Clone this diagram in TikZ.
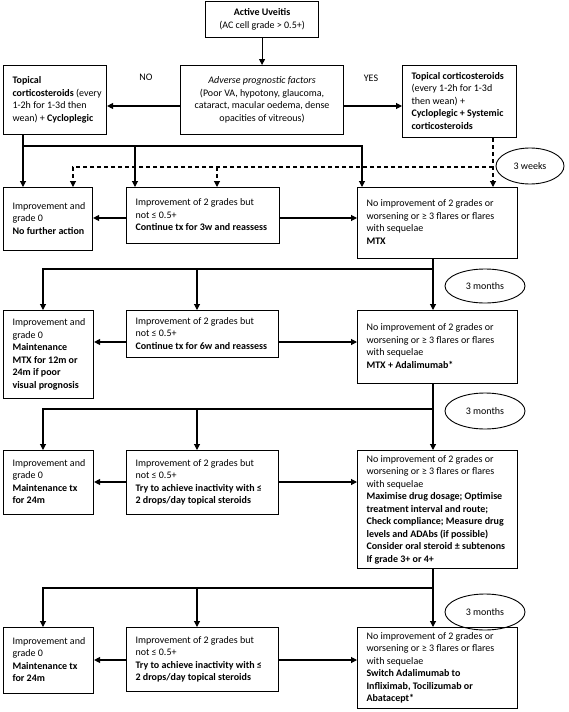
\documentclass[tikz,border=0pt]{standalone}
\usepackage{fontspec}
\setmainfont{Carlito}
\usetikzlibrary{arrows.meta,shapes.geometric}
\newcommand\fs{\fontsize{10}{12.5}\selectfont}
\newcommand\tb[2]{\makebox[#1][l]{\begin{tabular}{@{}l@{}}#2\end{tabular}}}
\newcommand\tcn[1]{\begin{tabular}{@{}c@{}}#1\end{tabular}}
\begin{document}
\begin{tikzpicture}[x=1pt,y=-1pt,
  bx/.style={draw, line width=1.1pt, anchor=north west, inner xsep=9pt, inner ysep=1pt, font=\fs},
  arr/.style={line width=1.1pt, -{Triangle[length=6pt,width=6pt]}},
  ln/.style={line width=1.1pt},
  dsh/.style={line width=1.1pt, dash pattern=on 4pt off 3pt},
  ell/.style={draw, ellipse, line width=0.9pt, inner sep=0pt, font=\fs},
  lbl/.style={font=\fs, inner sep=0pt}]
\useasboundingbox (0,0) rectangle (568,712);
% top
\node[bx, minimum width=113, minimum height=36] (T) at (205,1) {\tcn{\textbf{Active Uveitis}\\(AC cell grade > 0.5+)}};
\node[bx, minimum width=163, minimum height=69] (P) at (180,65) {\tcn{\textit{Adverse prognostic factors}\\(Poor VA, hypotony, glaucoma,\\cataract, macular oedema, dense\\opacities of vitreous)}};
\node[bx, minimum width=103, minimum height=69] (L) at (3,65) {\tb{85pt}{\textbf{Topical}\\\textbf{corticosteroids} (every\\1-2h for 1-3d then\\wean) + \textbf{Cycloplegic}}};
\node[bx, minimum width=114, minimum height=72] (R) at (402,65) {\tb{96pt}{\textbf{Topical corticosteroids}\\(every 1-2h for 1-3d\\then wean) +\\\textbf{Cycloplegic + Systemic}\\\textbf{corticosteroids}}};
\node[lbl] (no) at (146,77) {NO};
\node[lbl] (yes) at (371,78) {YES};
% row 1
\node[bx, minimum width=89, minimum height=63] (A1) at (3,187) {\tb{71pt}{Improvement and\\grade 0\\\textbf{No further action}}};
\node[bx, minimum width=153, minimum height=56] (B1) at (126,187) {\tb{135pt}{Improvement of 2 grades but\\not ≤ 0.5+\\\textbf{Continue tx for 3w and reassess}}};
\node[bx, minimum width=160, minimum height=71] (C1) at (357,187) {\tb{142pt}{No improvement of 2 grades or\\worsening or ≥ 3 flares or flares\\with sequelae\\\textbf{MTX}}};
% row 2
\node[bx, minimum width=90, minimum height=88] (A2) at (3,310) {\tb{72pt}{Improvement and\\grade 0\\\textbf{Maintenance}\\\textbf{MTX for 12m or}\\\textbf{24m if poor}\\\textbf{visual prognosis}}};
\node[bx, minimum width=152, minimum height=47] (B2) at (126,310) {\tb{134pt}{Improvement of 2 grades but\\not ≤ 0.5+\\\textbf{Continue tx for 6w and reassess}}};
\node[bx, minimum width=160, minimum height=73] (C2) at (357,310) {\tb{142pt}{No improvement of 2 grades or\\worsening or ≥ 3 flares or flares\\with sequelae\\\textbf{MTX + Adalimumab*}}};
% row 3
\node[bx, minimum width=90, minimum height=64] (A3) at (3,450) {\tb{72pt}{Improvement and\\grade 0\\\textbf{Maintenance tx}\\\textbf{for 24m}}};
\node[bx, minimum width=152, minimum height=64] (B3) at (126,450) {\tb{134pt}{Improvement of 2 grades but\\not ≤ 0.5+\\\textbf{Try to achieve inactivity with ≤}\\\textbf{2 drops/day topical steroids}}};
\node[bx, minimum width=160, minimum height=118] (C3) at (357,450) {\tb{142pt}{No improvement of 2 grades or\\worsening or ≥ 3 flares or flares\\with sequelae\\\textbf{Maximise drug dosage; Optimise}\\\textbf{treatment interval and route;}\\\textbf{Check compliance; Measure drug}\\\textbf{levels and ADAbs (if possible)}\\\textbf{Consider oral steroid ± subtenons}\\\textbf{If grade 3+ or 4+}}};
% row 4
\node[bx, minimum width=90, minimum height=66] (A4) at (3,627) {\tb{72pt}{Improvement and\\grade 0\\\textbf{Maintenance tx}\\\textbf{for 24m}}};
\node[bx, minimum width=152, minimum height=64] (B4) at (126,627) {\tb{134pt}{Improvement of 2 grades but\\not ≤ 0.5+\\\textbf{Try to achieve inactivity with ≤}\\\textbf{2 drops/day topical steroids}}};
\node[bx, minimum width=160, minimum height=81] (C4) at (357,627) {\tb{142pt}{No improvement of 2 grades or\\worsening or ≥ 3 flares or flares\\with sequelae\\\textbf{Switch Adalimumab to}\\\textbf{Infliximab, Tocilizumab or}\\\textbf{Abatacept*}}};
% ellipses
\node[ell, minimum width=68, minimum height=36] (W) at (530,166) {3 weeks};
\node[ell, minimum width=80, minimum height=34] (M1) at (485,286) {3 months};
\node[ell, minimum width=80, minimum height=36] (M2) at (485,411) {3 months};
\node[ell, minimum width=80, minimum height=36] (M3) at (485,612) {3 months};
% coordinates
\coordinate (ya) at (0,106);
\coordinate (j1) at (23,146);
\coordinate (j2) at (135,146);
\coordinate (j3) at (362,146);
\coordinate (d1) at (493,167);
\coordinate (d2) at (73,167);
\coordinate (d3) at (217,167);
\coordinate (r1) at (0,218);
\coordinate (k1) at (433,269);
\coordinate (k2) at (43,269);
\coordinate (k3) at (197,269);
\coordinate (r2) at (0,342);
\coordinate (m1) at (433,409);
\coordinate (m2) at (43,409);
\coordinate (m3) at (197,409);
\coordinate (r3) at (0,482);
\coordinate (n1) at (433,588);
\coordinate (n2) at (43,588);
\coordinate (n3) at (197,588);
\coordinate (r4) at (0,660);
% top connectors
\draw[arr] (T) -- (P);
\draw[arr] (P.west |- ya) -- (L.east |- ya);
\draw[arr] (P.east |- ya) -- (R.west |- ya);
% row 1 connectors
\draw[arr] (L.south -| j1) -- (A1.north -| j1);
\draw[arr] (j1) -- (j3) -- (C1.north -| j3);
\draw[arr] (j2) -- (B1.north -| j2);
\draw[dsh, arr] (R.south -| d1) -- (C1.north -| d1);
\draw[dsh, arr] (d1) -- (d2) -- (A1.north -| d2);
\draw[dsh, arr] (d3) -- (B1.north -| d3);
\draw[arr] (B1.west |- r1) -- (A1.east |- r1);
\draw[arr] (B1.east |- r1) -- (C1.west |- r1);
% row 2
\draw[arr] (C1.south -| k1) -- (C2.north -| k1);
\draw[arr] (k1) -- (k2) -- (A2.north -| k2);
\draw[arr] (k3) -- (B2.north -| k3);
\draw[arr] (B2.west |- r2) -- (A2.east |- r2);
\draw[arr] (B2.east |- r2) -- (C2.west |- r2);
% row 3
\draw[arr] (C2.south -| m1) -- (C3.north -| m1);
\draw[arr] (m1) -- (m2) -- (A3.north -| m2);
\draw[arr] (m3) -- (B3.north -| m3);
\draw[arr] (B3.west |- r3) -- (A3.east |- r3);
\draw[arr] (B3.east |- r3) -- (C3.west |- r3);
% row 4
\draw[arr] (C3.south -| n1) -- (C4.north -| n1);
\draw[arr] (n1) -- (n2) -- (A4.north -| n2);
\draw[arr] (n3) -- (B4.north -| n3);
\draw[arr] (B4.west |- r4) -- (A4.east |- r4);
\draw[arr] (B4.east |- r4) -- (C4.west |- r4);
\end{tikzpicture}
\end{document}
